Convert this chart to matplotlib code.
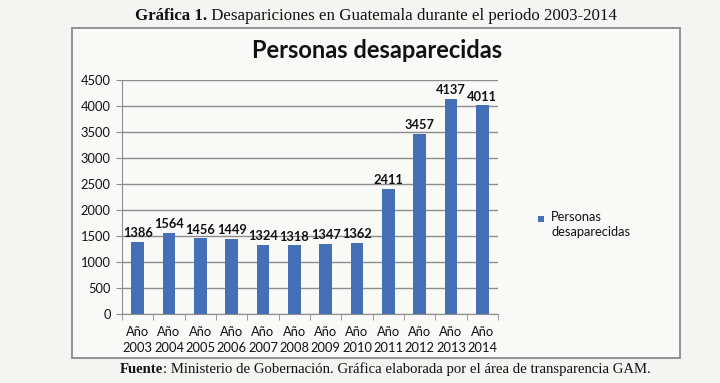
import numpy as np
import matplotlib
matplotlib.use("Agg")
from matplotlib import pyplot as plt
from matplotlib.patches import Rectangle

# data
years = ["2003", "2004", "2005", "2006", "2007", "2008",
         "2009", "2010", "2011", "2012", "2013", "2014"]
desaparecidos = [1386, 1564, 1456, 1449, 1324, 1318, 1347, 1362, 2411, 3457, 4137, 4011]
yticks = [0, 500, 1000, 1500, 2000, 2500, 3000, 3500, 4000, 4500]

W, H = 720, 383
bar_col = "#4670b6"
grid_col = "#8c8c8c"
sans = ["Lato", "DejaVu Sans"]
serif = ["Liberation Serif", "DejaVu Serif"]

fig = plt.figure(figsize=(W / 100, H / 100), dpi=100, facecolor="#f4f4f2")

# frame around the chart (kept behind the axes)
box = Rectangle((72 / W, 1 - 358 / H), (680 - 72) / W, (358 - 28) / H,
                transform=fig.transFigure, facecolor="#f9f9f8",
                edgecolor="#8a8a8a", lw=1.3, zorder=-10)
fig.patches.append(box)

ax = fig.add_axes([122 / W, 1 - 314 / H, (498 - 122) / W, (314 - 80) / H])
ax.set_facecolor("none")
x = np.arange(len(years))
ax.bar(x, desaparecidos, width=0.41, color=bar_col, zorder=3)
for xi, v in zip(x, desaparecidos):
    ax.annotate(str(v), (xi, v), xytext=(0, 2), textcoords="offset points",
                ha="center", va="bottom", fontsize=9.3, fontweight="bold",
                family=sans, color="#111111", zorder=4)

ax.set_xlim(-0.5, len(years) - 0.5)
ax.set_ylim(0, 4500)
ax.set_yticks(yticks)
ax.set_yticklabels([str(t) for t in yticks], family=sans, fontsize=9.3, color="#111111")
ax.set_xticks(x)
ax.set_xticklabels(["Año\n" + y for y in years], family=sans, fontsize=9.3,
                   color="#111111", linespacing=1.3)
ax.set_xticks(np.arange(-0.5, len(years)), minor=True)
ax.tick_params(axis="x", which="major", length=0, pad=9)
ax.tick_params(axis="x", which="minor", length=4, color=grid_col, direction="out")
ax.tick_params(axis="y", length=4, color=grid_col, pad=4)
ax.grid(axis="y", color=grid_col, lw=1, zorder=1)
for s in ["top", "right"]:
    ax.spines[s].set_visible(False)
for s in ["left", "bottom"]:
    ax.spines[s].set_color(grid_col)

# chart title
fig.text(377 / W, 1 - 50 / H, "Personas desaparecidas", ha="center", va="center",
         fontsize=17, fontweight="bold", family=sans, color="#111111")

# legend
fig.patches.append(Rectangle((538 / W, 1 - 222 / H), 6 / W, 6 / H,
                             transform=fig.transFigure, facecolor=bar_col, lw=0))
fig.text(551 / W, 1 - 211 / H, "Personas\ndesaparecidas", ha="left", va="top",
         fontsize=9.3, family=sans, color="#111111", linespacing=1.25)

# caption above and source below, bold part + regular part
def two_part(y, bold, rest, size, cx):
    renderer = fig.canvas.get_renderer()
    t1 = fig.text(0, y, bold, fontsize=size, fontweight="bold", family=serif,
                  va="baseline", ha="left", color="#111111")
    t2 = fig.text(0, y, rest, fontsize=size, family=serif, va="baseline",
                  ha="left", color="#111111")
    w1 = t1.get_window_extent(renderer).width
    w2 = t2.get_window_extent(renderer).width
    x0 = cx - (w1 + w2) / 2
    t1.set_x(x0 / W)
    t2.set_x((x0 + w1) / W)

two_part(1 - 20 / H, "Gráfica 1.", " Desapariciones en Guatemala durante el periodo 2003-2014", 12.2, 376)
two_part(1 - 373 / H, "Fuente", ": Ministerio de Gobernación. Gráfica elaborada por el área de transparencia GAM.", 10.6, 385)

fig.savefig("out.png", dpi=100, facecolor=fig.get_facecolor())
